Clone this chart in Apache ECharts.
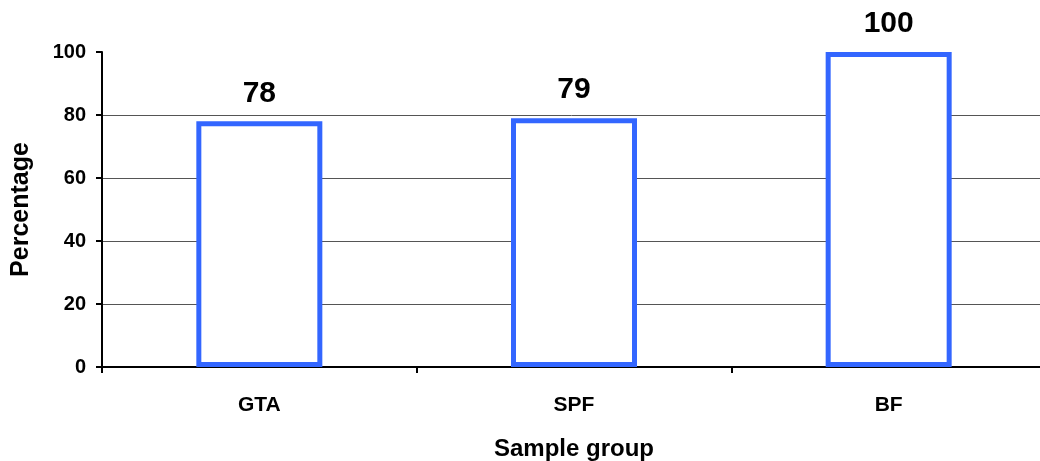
<!DOCTYPE html>
<html>
<head>
<meta charset="utf-8">
<script src="https://cdn.jsdelivr.net/npm/echarts@6/dist/echarts.min.js"></script>
<style>
  html, body { margin: 0; padding: 0; background: #fff; }
  #chart { width: 1040px; height: 461px; }
</style>
</head>
<body>
<div id="chart"></div>
<script>
// Sample groups and the percentage for each
const categories = ['GTA', 'SPF', 'BF'];
const percentages = [78, 79, 100];
const yTicks = [0, 20, 40, 60, 80, 100];

const FONT = 'Liberation Sans, Arial, Helvetica, sans-serif';
const chart = echarts.init(document.getElementById('chart'), null, { renderer: 'canvas' });

chart.setOption({
  animation: false,
  backgroundColor: '#ffffff',
  grid: { left: 102, top: 52, width: 944, height: 315, containLabel: false, outerBoundsMode: 'none' },
  xAxis: {
    type: 'category',
    data: categories,
    boundaryGap: true,
    name: 'Sample group',
    nameLocation: 'middle',
    nameGap: 70,
    nameTextStyle: { fontFamily: FONT, fontWeight: 'bold', fontSize: 24, color: '#000' },
    axisLine: { lineStyle: { color: '#000', width: 2 } },
    axisTick: { show: true, length: 6, alignWithLabel: false, lineStyle: { color: '#000', width: 2 } },
    axisLabel: { fontFamily: FONT, fontWeight: 'bold', fontSize: 21, color: '#000', margin: 28 },
    splitLine: { show: false }
  },
  yAxis: {
    type: 'value',
    min: yTicks[0],
    max: yTicks[yTicks.length - 1],
    interval: yTicks[1] - yTicks[0],
    name: 'Percentage',
    nameLocation: 'middle',
    nameGap: 68,
    nameRotate: 90,
    nameTextStyle: { fontFamily: FONT, fontWeight: 'bold', fontSize: 25, color: '#000' },
    axisLine: { show: true, lineStyle: { color: '#000', width: 2 } },
    axisTick: { show: true, length: 6, lineStyle: { color: '#000', width: 2 } },
    axisLabel: { fontFamily: FONT, fontWeight: 'bold', fontSize: 20, color: '#000', margin: 16, padding: [6, 0, 0, 0] },
    splitLine: { show: true, showMinLine: false, showMaxLine: false, lineStyle: { color: '#555', width: 1 } }
  },
  series: [{
    type: 'bar',
    data: percentages,
    barWidth: 126,
    itemStyle: { color: '#ffffff', borderColor: '#3366ff', borderWidth: 5 },
    label: {
      show: true,
      position: 'top',
      distance: 13,
      fontFamily: FONT,
      fontWeight: 'bold',
      fontSize: 30,
      color: '#000'
    }
  }]
});
</script>
</body>
</html>
